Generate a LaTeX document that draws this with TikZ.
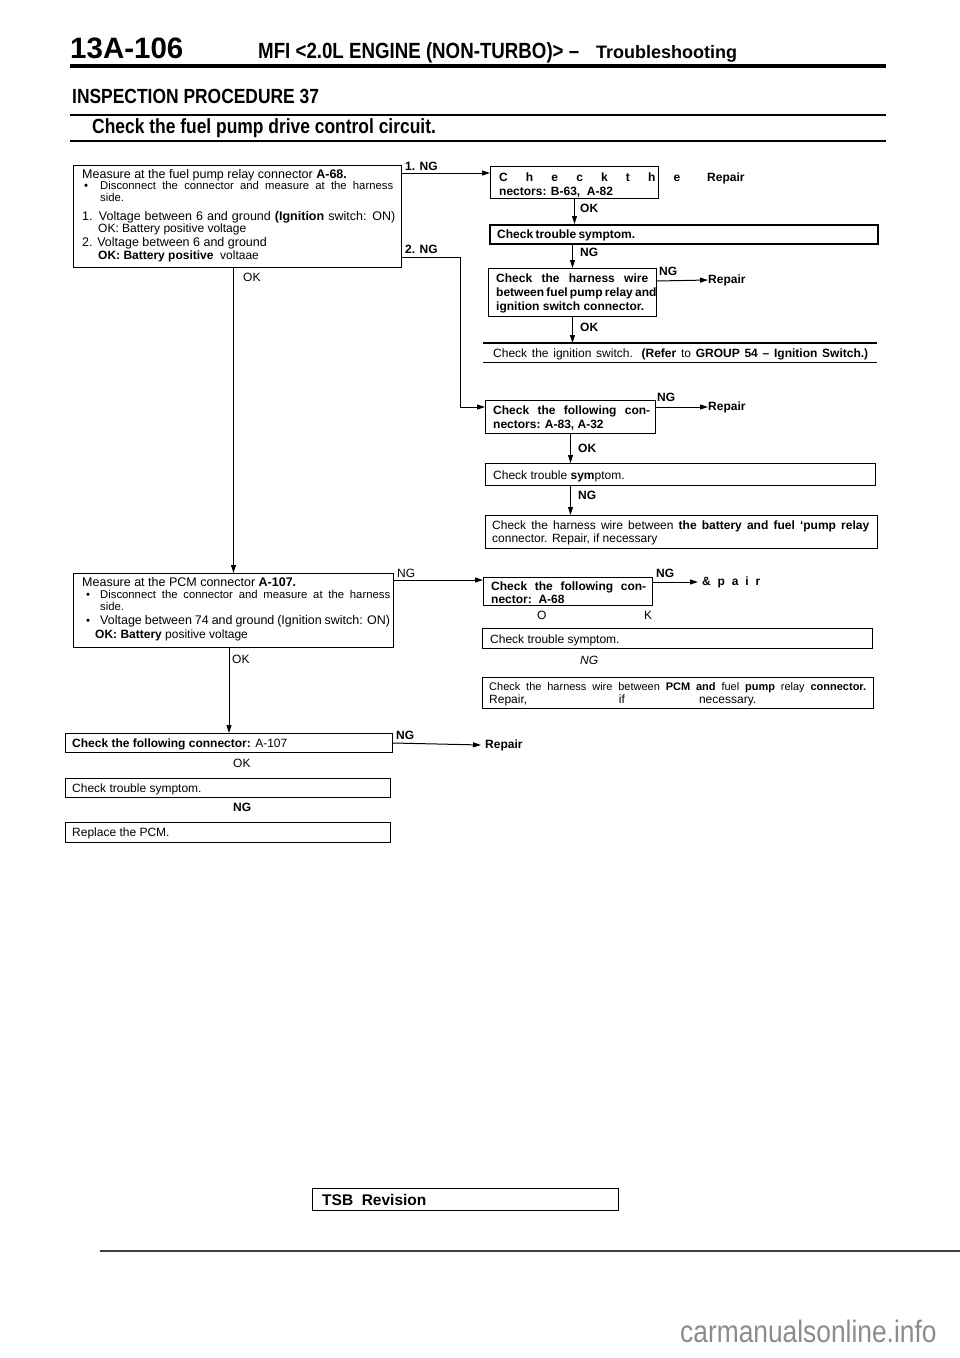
\documentclass[tikz,border=0pt]{standalone}
\usepackage{fontspec}
\setmainfont{Liberation Sans}
\newfontfamily\hdr[FakeStretch=0.85,Ligatures=TeX]{Liberation Sans}
\usetikzlibrary{arrows.meta}
\newcommand\fA{\fontsize{12.5}{14}\selectfont}
\newcommand\fB{\fontsize{12}{14}\selectfont}
\newcommand\fS{\fontsize{11.3}{12}\selectfont}
\newcommand\fC{\fontsize{11}{12}\selectfont}
\begin{document}
\begin{tikzpicture}[x=1pt,y=-1pt,
  box/.style={draw, line width=1pt, inner sep=0pt, anchor=north west},
  txt/.style={anchor=base west, inner sep=0pt},
  lbl/.style={anchor=base west, inner sep=0pt, font=\fB\bfseries},
  arr/.style={-{Triangle[length=8pt,width=5pt]}, line width=1pt},
  ln/.style={line width=1pt}]
\useasboundingbox[fill=white] (0,0) rectangle (960,1358);

% ---------- header ----------
\node[txt] (pg) at (70,58) {\fontsize{29.5}{30}\selectfont\bfseries 13A-106};
\node[txt] (hd) at (258,58) {\hdr\bfseries\fontsize{22}{24}\selectfont MFI <2.0L ENGINE (NON-TURBO)> –};
\node[txt] (hd2) at (596,58) {\fontsize{18}{20}\selectfont\bfseries Troubleshooting};
\draw[line width=4pt] (70,66) -- (886,66);
\node[txt] (ip) at (72,103) {\hdr\bfseries\fontsize{20.5}{22}\selectfont INSPECTION PROCEDURE 37};
\draw[line width=2pt] (70,115) -- (886,115);
\node[txt] (cc) at (92,133) {\hdr\bfseries\fontsize{20.5}{22}\selectfont Check the fuel pump drive control circuit.};
\draw[line width=2pt] (70,141) -- (886,141);

% ---------- box m1 ----------
\node[box, minimum width=328pt, minimum height=102pt] (m1) at (73,165) {};
\node[txt] (m1a) at (82,178) {\fA Measure at the fuel pump relay connector \textbf{A-68.}};
\node[txt] (m1b) at (84,189) {\fS •};
\node[txt] (m1c) at (100,189) {\fS\makebox[293pt][s]{Disconnect the connector and measure at the harness}};
\node[txt] (m1d) at (100,201) {\fS side.};
\node[txt] (m1e) at (82,220) {\fA\makebox[313pt][s]{1. Voltage between 6 and ground \textbf{(Ignition} switch: ON)}};
\node[txt] (m1f) at (98,232) {\fB OK: Battery positive voltage};
\node[txt] (m1g) at (82,246) {\fA 2. Voltage between 6 and ground};
\node[txt] (m1h) at (98,259) {\fB\textbf{OK: Battery positive}\ \ voltaae};

% ---------- right column, upper ----------
\node[box, minimum width=168pt, minimum height=32pt] (r1) at (490,166) {};
\node[txt] (r1a) at (499,181) {\fB\bfseries\makebox[181pt][s]{C h e c k t h e}};
\node[txt] (r1b) at (499,195) {\fB\bfseries nectors: B-63,\ \ A-82};
\node[txt] (r1c) at (707,181) {\fB\bfseries Repair};

\node[box, line width=1.8pt, minimum width=388pt, minimum height=19pt] (r2) at (489,224) {};
\node[txt] (r2a) at (497,238) {\fB\bfseries\makebox[138pt][s]{Check trouble symptom.}};

\node[box, minimum width=168pt, minimum height=48pt] (r3) at (488,268) {};
\node[txt] (r3a) at (496,282) {\fB\bfseries\makebox[152pt][s]{Check the harness wire}};
\node[txt] (r3b) at (496,296) {\fB\bfseries\makebox[152pt][s]{between fuel pump relay and}};
\node[txt] (r3c) at (496,310) {\fB\bfseries ignition switch connector.};
\node[anchor=west, inner sep=0pt] (rp3) at (708,280) {\fB\bfseries Repair};

\node[minimum width=394pt, minimum height=19pt, inner sep=0pt, anchor=north west] (ig) at (483,343) {};
\draw[line width=1.3pt] (ig.north west) -- (ig.north east);
\draw[line width=1.3pt] (ig.south west) -- (ig.south east);
\node[txt] (iga) at (493,357) {\fB\makebox[375pt][s]{Check the ignition switch. \textbf{(Refer} to \textbf{GROUP 54 – Ignition Switch.)}}};

\node[box, minimum width=170pt, minimum height=33pt] (r4) at (485,400) {};
\node[txt] (r4a) at (493,414) {\fB\bfseries\makebox[157pt][s]{Check the following con-}};
\node[txt] (r4b) at (493,428) {\fB\bfseries nectors: A-83, A-32};
\node[anchor=west, inner sep=0pt] (rp4) at (708,407) {\fB\bfseries Repair};

\node[box, minimum width=390pt, minimum height=22pt] (r5) at (485,463) {};
\node[txt] (r5a) at (493,479) {\fB Check trouble \textbf{sym}ptom.};

\node[box, minimum width=392pt, minimum height=33pt] (r6) at (485,515) {};
\node[txt] (r6a) at (492,529) {\fB\makebox[377pt][s]{Check the harness wire between \textbf{the battery and fuel ‘pump relay}}};
\node[txt] (r6b) at (492,542) {\fB connector. Repair, if necessary};

% ---------- box p2 ----------
\node[box, minimum width=320pt, minimum height=74pt] (p2) at (73,573) {};
\node[txt] (p2a) at (82,586) {\fA Measure at the PCM connector \textbf{A-107.}};
\node[txt] (p2b) at (86,598) {\fS •};
\node[txt] (p2c) at (100,598) {\fS\makebox[290pt][s]{Disconnect the connector and measure at the harness}};
\node[txt] (p2d) at (100,610) {\fS side.};
\node[txt] (p2e) at (86,624) {\fS •};
\node[txt] (p2f) at (100,624) {\fA\makebox[290pt][s]{Voltage between 74 and ground (Ignition switch: ON)}};
\node[txt] (p2g) at (95,638) {\fB\textbf{OK: Battery} positive voltage};

% ---------- right column, lower ----------
\node[box, minimum width=169pt, minimum height=28pt] (r7) at (483,577) {};
\node[txt] (r7a) at (491,590) {\fB\bfseries\makebox[155pt][s]{Check the following con-}};
\node[txt] (r7b) at (491,603) {\fB\bfseries nector:\ \ A-68};
\node[anchor=west, inner sep=0pt] (rp7) at (702,582) {\fB\bfseries\makebox[58pt][s]{\& p a i r}};
\node[txt] (ok7) at (537,619) {\fB\makebox[115pt][s]{O K}};

\node[box, minimum width=390pt, minimum height=20pt] (r8) at (482,628) {};
\node[txt] (r8a) at (490,643) {\fB Check trouble symptom.};
\node[txt] (ng8) at (580,664) {\fB\itshape NG};

\node[box, minimum width=391pt, minimum height=31pt] (r9) at (482,677) {};
\node[txt] (r9a) at (489,690) {\fC\makebox[377pt][s]{Check the harness wire between \textbf{PCM and} fuel \textbf{pump} relay \textbf{connector.}}};
\node[txt] (r9b) at (489,703) {\fB\makebox[267pt][s]{Repair, if necessary.}};

% ---------- left column, lower ----------
\node[box, minimum width=327pt, minimum height=19pt] (cf) at (65,733) {};
\node[txt] (cfa) at (72,747) {\fB\textbf{Check the following connector:} A-107};
\node[anchor=west, inner sep=0pt] (rpc) at (485,745) {\fB\bfseries Repair};
\node[txt] (okc) at (233,767) {\fB OK};

\node[box, minimum width=325pt, minimum height=19pt] (ts) at (65,778) {};
\node[txt] (tsa) at (72,792) {\fB Check trouble symptom.};
\node[txt] (ngt) at (233,811) {\fB\bfseries NG};

\node[box, minimum width=325pt, minimum height=20pt] (rp) at (65,822) {};
\node[txt] (rpa) at (72,836) {\fB Replace the PCM.};

% ---------- connectors ----------
\draw[arr] ([yshift=-8pt]m1.north east) -- ([yshift=-7pt]r1.north west);
\node[lbl] (l1) at (405,170) {1. NG};

\coordinate (k2) at (460,407);
\draw[arr] ([yshift=11pt]m1.south east) -| (k2) -- (r4.west |- k2);
\node[lbl] (l2) at (405,253) {2. NG};

\draw[arr] (p2.north |- m1.south) -- (p2.north);
\node[txt] (l3) at (243,281) {\fB OK};

\draw[arr] (r1.south) -- (r1.south |- r2.north);
\node[lbl] (l4) at (580,212) {OK};
\draw[arr] (r2.south -| r3.north) -- (r3.north);
\node[lbl] (l5) at (580,256) {NG};
\draw[arr] ([yshift=-13pt]r3.north east) -- (rp3.west);
\node[lbl] (l6) at (659,275) {NG};
\draw[arr] (r3.south) -- (r3.south |- ig.north);
\node[lbl] (l7) at (580,331) {OK};

\draw[arr] ([yshift=-7pt]r4.north east) -- (rp4.west);
\node[lbl] (l8) at (657,401) {NG};
\draw[arr] (r4.south) -- (r4.south |- r5.north);
\node[lbl] (l9) at (578,452) {OK};
\draw[arr] (r5.south -| r4.south) -- (r6.north -| r4.south);
\node[lbl] (l10) at (578,499) {NG};

\draw[arr] ([yshift=-7pt]p2.north east) -- ([yshift=-3pt]r7.north west);
\node[txt] (l11) at (397,577) {\fB NG};
\draw[arr] ([yshift=-5pt]r7.north east) -- ([xshift=-4pt]rp7.west);
\node[lbl] (l12) at (656,577) {NG};

\draw[arr] (cf.north |- p2.south) -- (cf.north);
\node[txt] (l13) at (232,663) {\fB OK};

\draw[arr] ([yshift=-10pt]cf.north east) -- ([xshift=-4pt]rpc.west);
\node[lbl] (l14) at (396,739) {NG};

% ---------- footer ----------
\node[box, minimum width=306pt, minimum height=22pt] (tsb) at (312,1188) {};
\node[txt] (tsba) at (322,1205) {\fontsize{15.5}{17}\selectfont\bfseries TSB\ \ Revision};
\draw[line width=1.5pt, black!75] (100,1251) -- (960,1251);
\node[txt, text=black!45] (wm) at (680,1342) {\hdr\fontsize{31}{33}\selectfont carmanualsonline.info};
\end{tikzpicture}
\end{document}
